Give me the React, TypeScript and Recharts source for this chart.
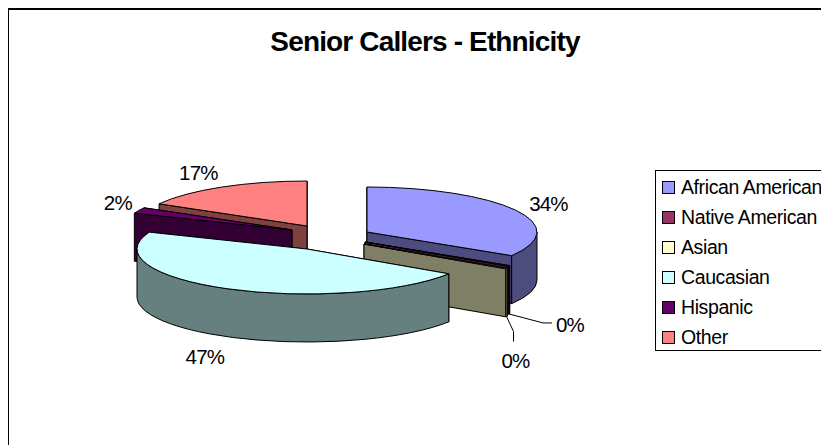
import { PieChart, Pie } from "recharts";

const categories = ["African American", "Native American", "Asian", "Caucasian", "Hispanic", "Other"];
// shares in percent; the two tiny ones round to the 0% printed on the chart
const shares = [33.8, 0.25, 0.25, 46.8, 2.1, 16.8];
const topColors = ["#9999FF", "#993366", "#FFFFCC", "#CCFFFF", "#660066", "#FF8080"];
const wallColors = ["#4C4C7F", "#4C1933", "#7F7F66", "#667F7F", "#330033", "#7F4040"];

const data = categories.map((name, i) => ({ name, value: shares[i] }));

// back to front, the sectors overlap once they are tilted
const drawOrder = ["Other", "Hispanic", "African American", "Native American", "Asian", "Caucasian"];

const FONT = '"Liberation Sans", Arial, sans-serif';
const CX = 326;
const CY = 238;
const RX = 170;
const TILT = 45 / 170;
const DEPTH = 48;

// how far each slice is pulled out of the centre
const explode: Record<string, [number, number]> = {
  "African American": [41, -6],
  "Native American": [39, 4],
  Asian: [38, 6],
  Caucasian: [-19, 11],
  Hispanic: [-34, -8],
  Other: [-19, -12],
};

// label position relative to the rim point at the slice's mid angle
const labelNudge: Record<string, [number, number]> = {
  "African American": [33, -7],
  "Native American": [61, 59],
  Asian: [9, 92],
  Caucasian: [-23, 68],
  Hispanic: [-21, -8],
  Other: [-23, -15],
};

// elbow of the leader line, relative to the label
const leaders: Record<string, [number, number][]> = {
  "Native American": [[-27, -2], [-18, -2]],
  Asian: [[-2, -29], [-2, -19]],
};

const rim = (ax: number, ay: number, deg: number, rx: number) => {
  const t = (deg * Math.PI) / 180;
  return [ax + rx * Math.sin(t), ay - rx * TILT * Math.cos(t)];
};

const sliceGeometry = (props: any) => {
  const name = props.name ?? props.payload?.name;
  const from = 90 - props.startAngle;
  const to = 90 - props.endAngle;
  const [ex, ey] = explode[name];
  const rx = props.outerRadius;
  return { name, from, to, rx, ax: props.cx + ex, ay: props.cy + ey };
};

const Slice3D = (props: any) => {
  const { name, from, to, rx, ax, ay } = sliceGeometry(props);
  const i = categories.indexOf(name);
  const ry = rx * TILT;
  const a = rim(ax, ay, from, rx);
  const b = rim(ax, ay, to, rx);
  const large = to - from > 180 ? 1 : 0;
  const top = `M${ax},${ay} L${a[0]},${a[1]} A${rx},${ry} 0 ${large} 1 ${b[0]},${b[1]} Z`;

  const wallQuad = (p: number[]) =>
    `M${ax},${ay} L${p[0]},${p[1]} L${p[0]},${p[1] + DEPTH} L${ax},${ay + DEPTH} Z`;
  const sideWalls = (from + to) / 2 > 180 ? [b, a] : [a, b];

  // only the front half of the rim shows its outer wall
  const wallFrom = Math.max(from, 90);
  const wallTo = Math.min(to, 270);
  let rimWall = null;
  if (wallTo > wallFrom) {
    const p = rim(ax, ay, wallFrom, rx);
    const q = rim(ax, ay, wallTo, rx);
    rimWall = (
      <path
        d={`M${p[0]},${p[1]} A${rx},${ry} 0 0 1 ${q[0]},${q[1]} L${q[0]},${q[1] + DEPTH} A${rx},${ry} 0 0 0 ${p[0]},${p[1] + DEPTH} Z`}
        fill={wallColors[i]}
        stroke="#000"
        strokeWidth={1}
      />
    );
  }

  return (
    <g>
      {sideWalls.map((p, k) => (
        <path key={k} d={wallQuad(p)} fill={wallColors[i]} stroke="#000" strokeWidth={1} />
      ))}
      {rimWall}
      <path d={top} fill={topColors[i]} stroke="#000" strokeWidth={1} />
    </g>
  );
};

const SliceLabel = (props: any) => {
  const { name, from, to, rx, ax, ay } = sliceGeometry(props);
  const i = categories.indexOf(name);
  const mid = rim(ax, ay, (from + to) / 2, rx);
  const [nx, ny] = labelNudge[name];
  const lx = mid[0] + nx;
  const ly = mid[1] + ny;
  const elbow = leaders[name];
  return (
    <g>
      {elbow && (
        <polyline
          points={[[mid[0], mid[1] + DEPTH], ...elbow.map(([x, y]) => [lx + x, ly + y])].map((p) => p.join(",")).join(" ")}
          fill="none"
          stroke="#000"
          strokeWidth={1}
        />
      )}
      <text
        x={lx}
        y={ly}
        textAnchor="middle"
        dominantBaseline="central"
        fontFamily={FONT}
        fontSize={20.5}
        letterSpacing={-0.8}
        fill="#000"
      >
        {Math.round(shares[i])}%
      </text>
    </g>
  );
};

export default function App() {
  return (
    <div
      style={{
        position: "fixed",
        left: 0,
        top: 0,
        width: 821,
        height: 445,
        overflow: "hidden",
        background: "#fff",
        fontFamily: FONT,
      }}
    >
      {/* chart area runs off the right and bottom of the picture */}
      <div
        style={{
          position: "absolute",
          left: 8,
          top: 8,
          width: 900,
          height: 500,
          border: "1px solid #000",
          borderTopWidth: 2,
        }}
      />
      <div
        style={{
          position: "absolute",
          left: 270,
          top: 26,
          width: 310,
          textAlign: "center",
          fontSize: 28,
          lineHeight: "32px",
          fontWeight: 700,
          letterSpacing: -0.85,
          whiteSpace: "nowrap",
          color: "#000",
        }}
      >
        Senior Callers - Ethnicity
      </div>

      <div style={{ position: "absolute", left: 0, top: 0 }}>
        <PieChart width={821} height={445} margin={{ top: 0, right: 0, bottom: 0, left: 0 }}>
          {drawOrder.map((layer) => (
            <Pie
              key={layer}
              data={data}
              dataKey="value"
              nameKey="name"
              cx={CX}
              cy={CY}
              outerRadius={RX}
              startAngle={90}
              endAngle={-270}
              isAnimationActive={false}
              legendType="none"
              shape={(props: any) =>
                (props.name ?? props.payload?.name) === layer ? <Slice3D {...props} /> : <g />
              }
            />
          ))}
          <Pie
            data={data}
            dataKey="value"
            nameKey="name"
            cx={CX}
            cy={CY}
            outerRadius={RX}
            startAngle={90}
            endAngle={-270}
            isAnimationActive={false}
            legendType="none"
            shape={(props: any) => <SliceLabel {...props} />}
          />
        </PieChart>
      </div>

      {/* legend, cut off by the picture edge like the original */}
      <div
        style={{
          position: "absolute",
          left: 655,
          top: 170,
          width: 220,
          height: 181,
          border: "1px solid #000",
          boxSizing: "border-box",
        }}
      >
        {categories.map((name, i) => (
          <div
            key={name}
            style={{
              position: "absolute",
              left: 6,
              top: 1 + i * 30,
              height: 30,
              display: "flex",
              alignItems: "center",
              whiteSpace: "nowrap",
            }}
          >
            <span
              style={{
                display: "inline-block",
                width: 11,
                height: 11,
                background: topColors[i],
                border: "1px solid #000",
                marginRight: 6,
              }}
            />
            <span style={{ fontSize: 19.5, letterSpacing: -0.4, color: "#000" }}>{name}</span>
          </div>
        ))}
      </div>
    </div>
  );
}
